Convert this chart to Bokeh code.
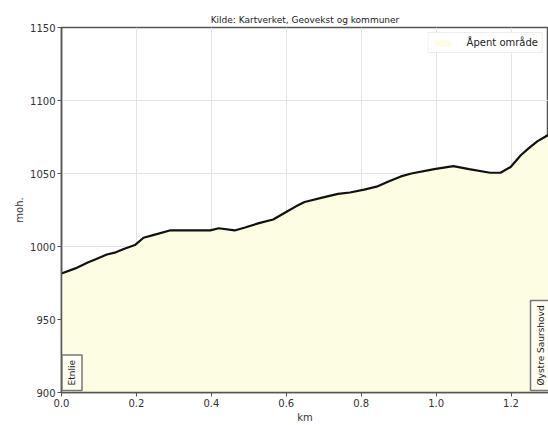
import math
from bokeh.plotting import figure
from bokeh.models import ColumnDataSource, Label, Range1d, FixedTicker, Legend, LegendItem
from bokeh.embed import file_html
from bokeh.resources import INLINE

# --- data ---
km = [0.0, 0.037, 0.07, 0.093, 0.121, 0.145, 0.168, 0.196, 0.219, 0.247, 0.289,
      0.397, 0.42, 0.462, 0.49, 0.527, 0.565, 0.602, 0.626, 0.649, 0.696, 0.738,
      0.77, 0.808, 0.841, 0.873, 0.906, 0.934, 0.995, 1.046, 1.088, 1.144, 1.172,
      1.199, 1.226, 1.246, 1.27, 1.30]
elev = [981.5, 985, 989, 991.5, 994.5, 996, 998.5, 1001, 1006, 1008, 1011,
        1011, 1012.5, 1011, 1013, 1016, 1018.5, 1024, 1027.5, 1030.5, 1033.5, 1036,
        1037, 1039, 1041, 1044.5, 1048, 1050, 1053, 1055, 1053, 1050.5, 1050.5,
        1054.5, 1062.5, 1067, 1072, 1076.5]
base = [900] * len(km)
x_ticks = [0.0, 0.2, 0.4, 0.6, 0.8, 1.0, 1.2]
y_ticks = [900, 950, 1000, 1050, 1100, 1150]
place_names = ["Etnlie", "Øystre Saurshovd"]
place_km = [0.0, 1.30]
legend_label = "Åpent område"
title_text = "Kilde: Kartverket, Geovekst og kommuner"

FONT = "DejaVu Sans"
FILL = "#fdfde4"

src = ColumnDataSource(dict(x=km, y=elev, b=base))

p = figure(width=548, height=425, output_backend="svg", toolbar_location=None,
           x_range=Range1d(0, 1.30), y_range=Range1d(900, 1150),
           min_border_left=61, min_border_right=0, min_border_top=27, min_border_bottom=0,
           title=title_text)

p.title.text_font = FONT
p.title.text_font_size = "9px"
p.title.text_font_style = "normal"
p.title.align = "center"
p.title.text_color = "#222222"
p.title.standoff = 6

area = p.varea(x="x", y1="b", y2="y", source=src, fill_color=FILL, fill_alpha=1.0)
p.line(x="x", y="y", source=src, line_color="#111111", line_width=2.2)

legend = Legend(items=[LegendItem(label=legend_label, renderers=[area])],
                location="top_right")
legend.label_text_font = FONT
legend.label_text_font_size = "10px"
legend.label_text_color = "#222222"
legend.border_line_color = "#dddddd"
legend.border_line_width = 1
legend.glyph_width = 20
legend.glyph_height = 8
legend.padding = 4
legend.margin = 5
legend.spacing = 0
legend.label_standoff = 14
legend.background_fill_alpha = 0.9
p.add_layout(legend)

for ax in (p.xaxis, p.yaxis):
    ax.axis_line_color = "#555555"
    ax.axis_line_width = 1.5
    ax.major_tick_line_color = "#555555"
    ax.major_tick_in = 0
    ax.major_tick_out = 4
    ax.minor_tick_line_color = None
    ax.major_label_text_font = FONT
    ax.major_label_text_font_size = "10px"
    ax.major_label_text_color = "#333333"
    ax.axis_label_text_font = FONT
    ax.axis_label_text_font_size = "10px"
    ax.axis_label_text_font_style = "normal"
    ax.axis_label_text_color = "#333333"
    ax.major_label_standoff = 2
    ax.axis_label_standoff = 2

p.xaxis.ticker = FixedTicker(ticks=x_ticks)
p.yaxis.ticker = FixedTicker(ticks=y_ticks)
p.xaxis.axis_label = "km"
p.yaxis.axis_label = "moh."
p.xaxis.major_label_overrides = {t: f"{t:.1f}" for t in x_ticks}

p.xgrid.grid_line_color = "#e4e4e4"
p.ygrid.grid_line_color = "#e4e4e4"
p.outline_line_color = "#555555"
p.outline_line_width = 1.5

# place labels
lbl1 = Label(x=place_km[0], y=900, text=place_names[0], angle=math.pi / 2,
             text_align="left", text_baseline="top", x_offset=0.5, y_offset=2,
             text_font=FONT, text_font_size="9px", text_color="#222222",
             background_fill_color="#fefef2", border_line_color="#777777",
             border_line_width=1.5, padding=5)
lbl2 = Label(x=place_km[1], y=900, text=place_names[1], angle=math.pi / 2,
             text_align="left", text_baseline="bottom", x_offset=2, y_offset=2,
             text_font=FONT, text_font_size="9px", text_color="#222222",
             background_fill_color="#fefef2", border_line_color="#777777",
             border_line_width=1.5, padding=5)
p.add_layout(lbl1)
p.add_layout(lbl2)

open("out.html", "w").write(file_html(p, INLINE))
